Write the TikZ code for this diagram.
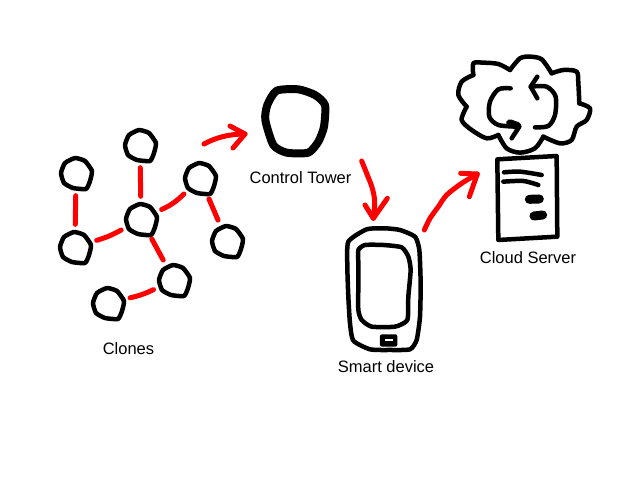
\documentclass[tikz,border=0pt]{standalone}
\usepackage{fontspec}
\setmainfont{Liberation Sans}
\tikzset{
  ink/.style={draw=black,line width=4.5pt,line join=round,line cap=round},
  redline/.style={draw=red,line width=5pt,line join=round,line cap=round},
  label/.style={font=\fontsize{16.5}{19}\selectfont,text=black,inner sep=0pt},
  clone/.style={circle,minimum size=45pt,inner sep=0pt},
  blob/.pic={\draw[ink] plot[smooth cycle,tension=.3] coordinates {(-15,0)(-11,-10)(-1,-15)(9,-12)(16,-2)(14,8)(10,16)(-3,15)(-12,10)};},
  zoomA/.style={shift={(440,40)},x=.3333pt,y=-.3333pt},
  zoomB/.style={shift={(330,150)},x=.3333pt,y=-.3333pt},
  zoomC/.style={shift={(240,70)},x=.3333pt,y=-.3333pt}
}
\begin{document}
\begin{tikzpicture}[x=1pt,y=-1pt]
\useasboundingbox (0,0) rectangle (640,480);
\fill[white] (0,0) rectangle (640,480);
% clones
\node[clone] (c1) at (76,173) {};
\node[clone] (c2) at (140,145) {};
\node[clone] (c3) at (75,247) {};
\node[clone] (c4) at (141,219) {};
\node[clone] (c5) at (200,178) {};
\node[clone] (c6) at (227,241) {};
\node[clone] (c7) at (174,280) {};
\node[clone] (c8) at (108,303) {};
\foreach \n in {c1,c2,c3,c4,c5,c6,c7,c8} \pic at (\n.center) {blob};
\draw[redline] (c1) -- (c3);
\draw[redline] (c2) -- (c4);
\draw[redline] (c3) to[bend right=6] (c4);
\draw[redline] (c4) to[bend right=10] (c5);
\draw[redline] (c5) -- (c6);
\draw[redline] (c4) -- (c7);
\draw[redline] (c8) to[bend right=6] (c7);
\node[label] (clones) at (128.5,349) {Clones};
% control tower
\node[circle,minimum size=70pt,inner sep=0pt] (tower) at (296,121) {};
\begin{scope}[zoomC]
\draw[ink,line width=8pt] plot[smooth cycle,tension=.4] coordinates {(76,150)(82,105)(110,62)(175,58)(225,75)(255,105)(252,170)(235,215)(205,248)(140,248)(100,225)};
\end{scope}
\node[label] (towerl) at (300.5,178) {Control Tower};
% arrow clones to tower
\coordinate (a1s) at (204,144);
\coordinate (a1t) at (245,134);
\draw[redline] (a1s) .. controls (215,138) and (228,134) .. (a1t);
\draw[redline] (230,126) -- (a1t) -- (233,148);
% smart device
\begin{scope}[zoomB]
\draw[ink] plot[smooth cycle,tension=.35] coordinates {(55,275)(110,238)(165,235)(210,240)(255,260)(268,300)(272,400)(270,500)(260,570)(240,598)(180,600)(120,598)(70,572)(60,520)(55,440)(52,350)};
\draw[ink] plot[smooth cycle,tension=.35] coordinates {(85,300)(105,285)(160,285)(215,292)(235,320)(242,360)(235,440)(232,510)(195,530)(125,530)(95,510)(85,480)(85,400)(85,340)};
\fill[black,rounded corners=2pt] (150,553) rectangle (202,590);
\fill[white] (165,568) rectangle (190,573);
\coordinate (a2s) at (95,33);
\coordinate (a2t) at (130,205);
\coordinate (a3s) at (283,240);
\coordinate (a3t) at (442,72);
\draw[redline] plot[smooth,tension=.6] coordinates {(a2s)(112,75)(127,115)(134,155)(a2t)};
\draw[redline] (105,165) -- (a2t) -- (172,145);
\draw[redline] plot[smooth,tension=.5] coordinates {(a3s)(300,205)(325,170)(350,135)(395,100)(a3t)};
\draw[redline] (392,70) -- (a3t) -- (418,140);
\end{scope}
\node[label] (phonel) at (386,367) {Smart device};
% cloud and server
\begin{scope}[zoomA]
\draw[ink] plot[smooth,tension=.5] coordinates {(100,105)(100,70)(130,68)(175,72)(210,90)};
\draw[ink] plot[smooth,tension=.5] coordinates {(210,90)(240,55)(270,50)(305,58)(335,100)};
\draw[ink] plot[smooth,tension=.5] coordinates {(335,100)(370,90)(410,95)(415,130)(418,190)};
\draw[ink] plot[smooth,tension=.5] coordinates {(418,190)(450,205)(440,240)(410,260)(395,300)(360,310)(310,290)};
\draw[ink] plot[smooth,tension=.5] coordinates {(310,290)(285,325)(240,338)(200,325)(175,285)};
\draw[ink] plot[smooth,tension=.5] coordinates {(175,285)(140,295)(95,270)(65,240)(80,200)};
\draw[ink] plot[smooth,tension=.5] coordinates {(80,200)(55,165)(65,125)(100,105)};
\draw[ink] plot[smooth,tension=.5] coordinates {(212,145)(175,148)(150,185)(148,230)(175,255)(235,260)};
\draw[ink,line width=8pt] (210,250) -- (232,258);
\draw[ink] (238,260) -- (215,295);
\draw[ink] plot[smooth,tension=.5] coordinates {(285,262)(325,258)(345,225)(347,170)(320,140)(272,140)};
\draw[ink] (292,110) -- (272,140) -- (292,175);
\draw[ink] (172,358) -- (350,348) -- (352,590) -- (175,600) -- cycle;
\draw[ink] plot[smooth,tension=.5] coordinates {(192,397)(240,395)(305,405)};
\draw[ink] plot[smooth,tension=.5] coordinates {(190,425)(250,423)(295,435)};
\draw[ink,line width=9pt] (268,478) -- (298,477);
\draw[ink,line width=9pt] (282,528) -- (308,525);
\end{scope}
\node[label] (serverl) at (528,258) {Cloud Server};
\end{tikzpicture}
\end{document}
